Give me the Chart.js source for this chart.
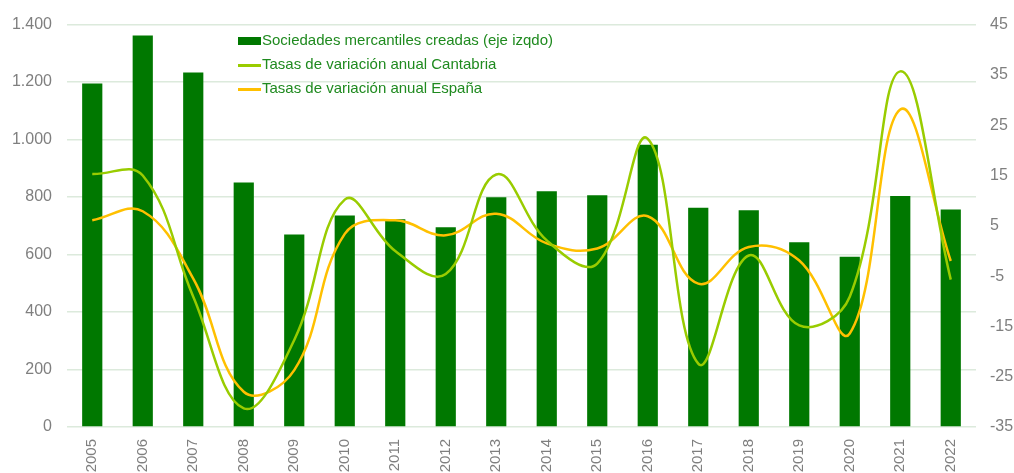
<!DOCTYPE html>
<html>
<head>
<meta charset="utf-8">
<script src="https://cdn.jsdelivr.net/npm/chart.js@4"></script>
<style>
    html, body { margin: 0; padding: 0; background: #fff; }
    #wrap { position: relative; width: 1014px; height: 473px; }
    #legend {
        position: absolute; left: 238px; top: 28px;
        font-family: "Liberation Sans", Arial, sans-serif; font-size: 15px; color: #1f8a1f;
    }
    .item { height: 24px; line-height: 24px; white-space: nowrap; }
    .sw { display: inline-block; width: 23px; vertical-align: middle; margin-right: 1px; }
</style>
</head>
<body>
<div id="wrap">
    <canvas id="chart" width="1014" height="473"></canvas>
    <div id="legend"></div>
</div>
<script>
// ================= DATA =================
const years = ["2005","2006","2007","2008","2009","2010","2011","2012","2013",
               "2014","2015","2016","2017","2018","2019","2020","2021","2022"];

// Sociedades mercantiles creadas (left axis)
const sociedades = [1195,1362,1233,851,670,736,723,695,799,820,806,982,763,754,643,592,804,757];

// Tasas de variación anual (right axis, %)
const tasaCantabria = [15.3,15.0,-9.1,-31.3,-17.7,10.2,0.0,-4.6,15.2,2.1,-2.5,22.3,-22.4,-0.9,-14.8,-9.1,35.7,-5.7];
const tasaEspana    = [6.1,7.9,-5.5,-28.0,-23.7,3.4,6.1,3.1,7.4,1.5,0.5,6.9,-6.5,0.8,-1.9,-16.4,28.1,-2.0];

const labelsSeries = [
    "Sociedades mercantiles creadas (eje izqdo)",
    "Tasas de variación anual Cantabria",
    "Tasas de variación anual España"
];

const FONT = "'Liberation Sans', Arial, sans-serif";
const gridColor = "#dceadc";
const tickColor = "#7f7f7f";

function fmtMiles(v) {
    return String(v).replace(/\B(?=(\d{3})+(?!\d))/g, ".");
}

// ================= CHART =================
const ctx = document.getElementById("chart");
const chart = new Chart(ctx, {
    type: "bar",
    data: {
        labels: years,
        datasets: [
            {
                type: "line",
                label: labelsSeries[1],
                data: tasaCantabria,
                yAxisID: "y2",
                borderColor: "#99cc00",
                borderWidth: 2.5,
                pointRadius: 0,
                tension: 0.4,
                fill: false,
                order: 1
            },
            {
                type: "line",
                label: labelsSeries[2],
                data: tasaEspana,
                yAxisID: "y2",
                borderColor: "#ffc000",
                borderWidth: 2.5,
                pointRadius: 0,
                tension: 0.4,
                fill: false,
                order: 2
            },
            {
                type: "bar",
                label: labelsSeries[0],
                data: sociedades,
                yAxisID: "y",
                backgroundColor: "#007800",
                barPercentage: 0.4,
                categoryPercentage: 1,
                order: 3
            }
        ]
    },
    options: {
        responsive: false,
        animation: false,
        layout: { padding: { top: 24, left: 0, right: 0, bottom: 0 } },
        plugins: {
            legend: { display: false },
            tooltip: { enabled: false }
        },
        scales: {
            x: {
                grid: { display: false },
                border: { display: false },
                ticks: {
                    color: tickColor,
                    font: { family: FONT, size: 15 },
                    minRotation: 90,
                    maxRotation: 90,
                    padding: 4
                },
                afterFit: (s) => { s.height = 46; }
            },
            y: {
                position: "left",
                min: 0,
                max: 1400,
                grid: { color: gridColor, lineWidth: 1.5, drawTicks: false },
                border: { display: false },
                ticks: {
                    stepSize: 200,
                    color: tickColor,
                    font: { family: FONT, size: 16 },
                    padding: 15,
                    callback: (v) => fmtMiles(v)
                },
                afterFit: (s) => { s.width = 67; }
            },
            y2: {
                position: "right",
                min: -35,
                max: 45,
                grid: { display: false, drawTicks: false },
                border: { display: false },
                ticks: {
                    stepSize: 10,
                    color: tickColor,
                    font: { family: FONT, size: 16 },
                    padding: 14
                },
                afterFit: (s) => { s.width = 38; }
            }
        }
    }
});

// ================= LEGEND =================
const legend = document.getElementById("legend");
const legendItems = [
    { text: labelsSeries[0], color: "#007800", h: 8 },
    { text: labelsSeries[1], color: "#99cc00", h: 3 },
    { text: labelsSeries[2], color: "#ffc000", h: 3 }
];
legendItems.forEach((it) => {
    const row = document.createElement("div");
    row.className = "item";
    const sw = document.createElement("span");
    sw.className = "sw";
    sw.style.height = it.h + "px";
    sw.style.background = it.color;
    row.appendChild(sw);
    row.appendChild(document.createTextNode(it.text));
    legend.appendChild(row);
});
</script>
</body>
</html>
